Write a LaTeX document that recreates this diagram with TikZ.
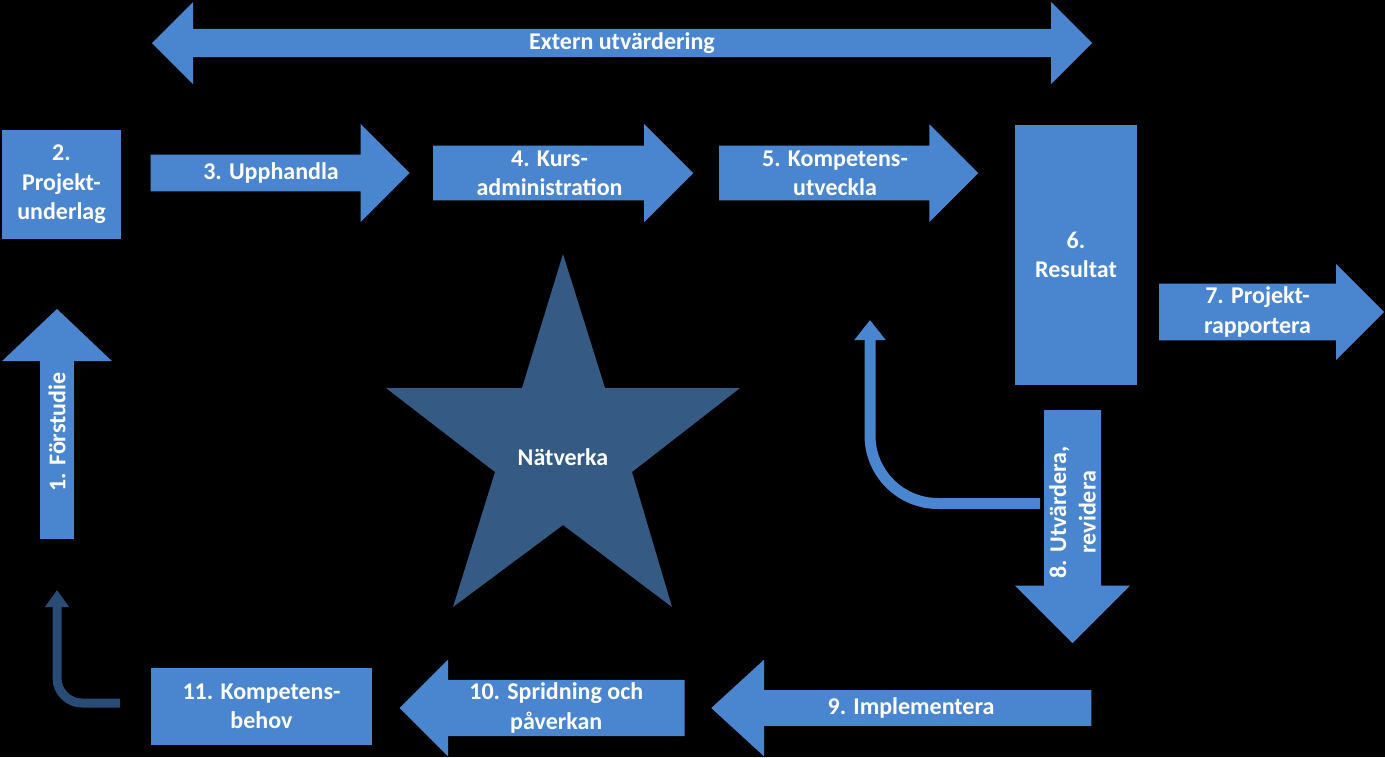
\documentclass[tikz,border=0pt]{standalone}
\usepackage{fontspec}
\setmainfont{Carlito}
\usetikzlibrary{shapes.arrows,arrows.meta}

\definecolor{blockblue}{HTML}{4A86CF}
\definecolor{starblue}{HTML}{355A84}
\definecolor{loopblue}{HTML}{284C76}

\begin{document}
\begin{tikzpicture}[
    x=0.5pt, y=-0.5pt,           % 1 unit = 1 pixel of the reference
    box/.style={
        rectangle, fill=blockblue,
        text=white, inner sep=0pt,
        align=center,
        font=\fontsize{12}{14.7}\selectfont\bfseries
    },
    bigarrow/.style={box, single arrow, single arrow tip angle=90},
    twoway/.style={box, double arrow, double arrow tip angle=90},
    loop/.style={line width=#1, rounded corners}
]

% --- Nền ---
\fill[black] (0,0) rectangle (1385,757);

% --- Mũi tên hai chiều trên cùng ---
\node[twoway, minimum height=470pt, minimum width=41pt,
      double arrow head extend=10.25pt] (extern) at (622,43) {Extern utvärdering};

% --- Hàng trên ---
\node[box, minimum width=59.5pt, minimum height=54.5pt] (underlag) at (61.5,184.5) {2.\\Projekt-\\underlag};
\node[bigarrow, minimum height=129.5pt, minimum width=49pt,
      single arrow head extend=9pt] (upphandla) at (271,173) {3. Upphandla};
\node[bigarrow, minimum height=130pt, minimum width=49pt,
      single arrow head extend=9pt] (kurs) at (549.5,173) {4. Kurs-\\administration};
\node[bigarrow, minimum height=129.5pt, minimum width=49pt,
      single arrow head extend=9pt] (utveckla) at (835,173) {5. Kompetens-\\utveckla};
\node[box, minimum width=61pt, minimum height=130pt] (resultat) at (1076,255) {6.\\Resultat};
\node[bigarrow, minimum height=112.5pt, minimum width=48pt,
      single arrow head extend=8.75pt] (rapport) at (1257.5,312) {7. Projekt-\\rapportera};

% --- Bên trái và bên phải ---
\node[bigarrow, rotate=90, single arrow tip angle=93, minimum height=115pt,
      minimum width=55pt, single arrow head extend=10pt] (forstudie) at (57,432) {1. Förstudie};

% --- Vòng phản hồi ---
\coordinate (fbstart) at (1040,503.5);
\coordinate (fbend) at (870,320);
\draw[loop=5.5pt, rounded corners=34pt, blockblue, -{Triangle[width=15pt,length=10pt]}] (fbstart) -| (fbend);

\node[bigarrow, rotate=90, shape border rotate=180, minimum height=116.5pt,
      minimum width=57.5pt, single arrow head extend=12pt] (utvardera) at (1072.5,512.25) {8. Utvärdera,\\revidera};

% --- Hàng dưới: đi ngược lại ---
\node[bigarrow, shape border rotate=180, single arrow tip angle=85, minimum height=190pt,
      minimum width=48.5pt, single arrow head extend=9.25pt] (impl) at (911,708) {9. Implementera};
\node[bigarrow, shape border rotate=180, minimum height=142.5pt,
      minimum width=48.5pt, single arrow head extend=9.25pt] (spridning) at (556.25,708) {10. Spridning och\\påverkan};
\node[box, minimum width=110.5pt, minimum height=38.5pt] (behov) at (261.5,706.5) {11. Kompetens-\\behov};

\coordinate (lpstart) at (120,703);
\coordinate (lpend) at (57,590);
\draw[loop=4.5pt, rounded corners=12.5pt, loopblue, -{Triangle[width=11.5pt,length=8.5pt]}] (lpstart) -| (lpend);

% --- Ngôi sao ---
\fill[starblue] (563,254) -- (605,388) -- (740,388) -- (632,472) -- (672,607)
    -- (563,525) -- (453,607) -- (495,472) -- (386,388) -- (522,388) -- cycle;
\node[box, fill=none] (natverka) at (563,457) {Nätverka};

\end{tikzpicture}
\end{document}
